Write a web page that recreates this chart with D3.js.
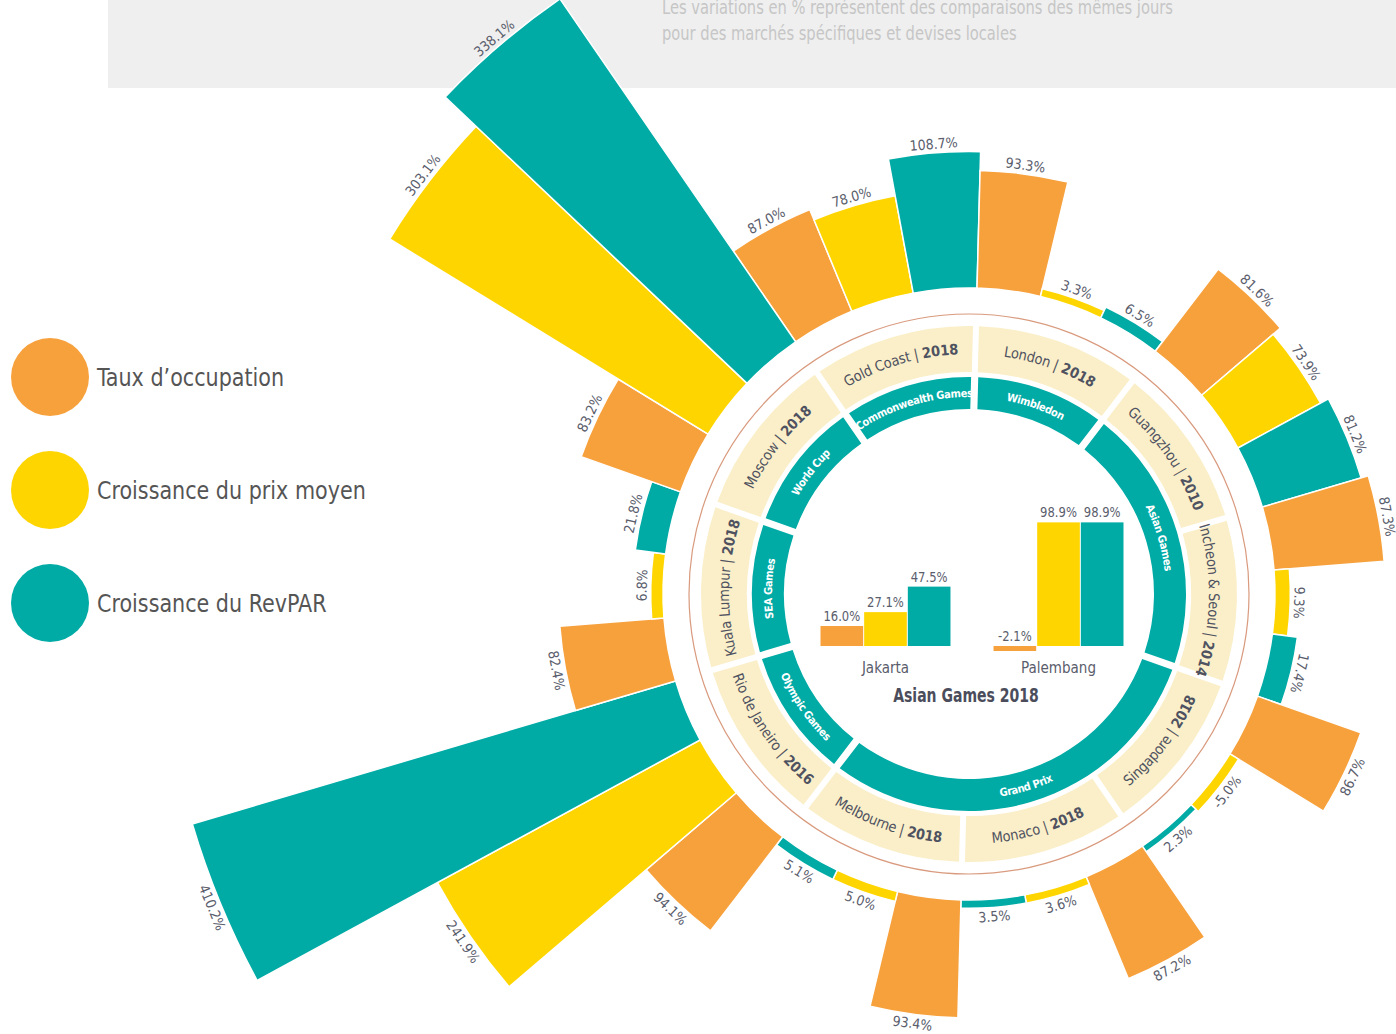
<!DOCTYPE html>
<html>
<head>
<meta charset="utf-8">
<script src="https://cdn.jsdelivr.net/npm/d3@7"></script>
<style>
	body { margin: 0; background: #fff; }
	#root { width: 1396px; height: 1034px; overflow: hidden; }
	text { font-family: "Liberation Sans Narrow", "DejaVu Sans Condensed", Roboto, sans-serif; font-stretch: condensed; }
</style>
</head>
<body>
<div id="root"></div>
<script>
// events, clockwise from the top-left
const cities = ["Gold Coast", "London", "Guangzhou", "Incheon & Seoul", "Singapore", "Monaco", "Melbourne", "Rio de Janeiro", "Kuala Lumpur", "Moscow"];
const years = ["2018", "2018", "2010", "2014", "2018", "2018", "2018", "2016", "2018", "2018"];
const sports = ["Commonwealth Games", "Wimbledon", "Asian Games", "Grand Prix", "Olympic Games", "SEA Games", "World Cup"];
const sportSpans = [1, 1, 2, 3, 1, 1, 1];

const seriesNames = ["Taux d\u2019occupation", "Croissance du prix moyen", "Croissance du RevPAR"];
const occupancy = [87.0, 93.3, 81.6, 87.3, 86.7, 87.2, 93.4, 94.1, 82.4, 83.2];
const adrGrowth = [78.0, 3.3, 73.9, 9.3, -5.0, 3.6, 5.0, 241.9, 6.8, 303.1];
const revparGrowth = [108.7, 6.5, 81.2, 17.4, 2.3, 3.5, 5.1, 410.2, 21.8, 338.1];

// Asian Games 2018 inset
const agCities = ["Jakarta", "Palembang"];
const jakarta = [16.0, 27.1, 47.5];
const palembang = [-2.1, 98.9, 98.9];

const noteLines = ["Les variations en % repr\u00e9sentent des comparaisons des m\u00eames jours", "pour des march\u00e9s sp\u00e9cifiques et devises locales"];

const colors = ["#F7A13D", "#FFD500", "#00ABA6"];
const textGrey = "#5a5d6c";

const cx = 969, cy = 594;
const rBar = 306;
const startDeg = -34.5;
const toRad = Math.PI / 180;

const makeChart = () => {
	const svg = d3.select("#root")
		.append("svg")
			.attr("width", 1396)
			.attr("height", 1034);

	renderHeader(svg);
	const g = svg.append("g").attr("transform", `translate(${cx}, ${cy})`);
	const angle = d3.scaleBand()
		.domain(d3.range(cities.length * 3))
		.range([startDeg * toRad, startDeg * toRad + 2 * Math.PI]);

	renderBars(g, angle);
	renderRings(g, angle);
	renderInset(svg);
	renderLegend(svg);
};

const renderHeader = (svg) => {
	svg.append("rect")
		.attr("x", 108).attr("y", 0)
		.attr("width", 1288).attr("height", 88)
		.style("fill", "#efefef");

	svg.selectAll(".note")
		.data(noteLines).enter()
		.append("text")
			.attr("class", "note")
			.attr("transform", (d, i) => `translate(662, ${14 + i * 26}) scale(0.86, 1)`)
			.style("font-size", "19px")
			.style("fill", "#c6c6c6")
			.text(d => d);
};

const renderBars = (g, angle) => {
	const series = [occupancy, adrGrowth, revparGrowth];
	const bars = cities.flatMap((c, i) => series.map((s, j) => ({ key: i * 3 + j, value: s[i], metric: j })));

	const radius = d3.scaleLinear().domain([0, 410.2]).range([rBar + 4, 810]);

	const arc = d3.arc()
		.innerRadius(rBar)
		.outerRadius(d => radius(Math.abs(d.value)))
		.startAngle(d => angle(d.key))
		.endAngle(d => angle(d.key) + angle.bandwidth());

	g.selectAll(".bar")
		.data(bars).enter()
		.append("path")
			.attr("class", "bar")
			.attr("d", arc)
			.style("fill", d => colors[d.metric])
			.style("stroke", "#fff")
			.style("stroke-width", 1.5);

	g.selectAll(".bar-label")
		.data(bars).enter()
		.append("text")
			.attr("class", "bar-label")
			.attr("text-anchor", "middle")
			.attr("transform", d => {
				const deg = ((angle(d.key) + angle.bandwidth() / 2) / toRad + 360) % 360;
				const r = radius(Math.abs(d.value));
				const flip = deg > 110 && deg < 262;
				return flip
					? `rotate(${deg}) translate(0, ${-(r + 14)}) rotate(180)`
					: `rotate(${deg}) translate(0, ${-(r + 4)})`;
			})
			.style("font-size", "14px")
			.style("fill", textGrey)
			.text(d => d.value.toFixed(1) + "%");
};

const arcPath = (r, a0, a1, flip) => {
	// a little longer than the cell so long names are not clipped
	const p = d3.path();
	const s = a0 - 0.3, e = a1 + 0.3;
	if (flip) {
		p.arc(0, 0, r, e - Math.PI / 2, s - Math.PI / 2, true);
	} else {
		p.arc(0, 0, r, s - Math.PI / 2, e - Math.PI / 2, false);
	}
	return p.toString();
};

const isFlipped = (a0, a1) => {
	const deg = (((a0 + a1) / 2) / toRad + 360) % 360;
	return deg > 100 && deg < 260;
};

const renderRings = (g, angle) => {
	const step = angle.bandwidth() * 3;
	const defs = g.append("defs");

	// thin outline circle
	g.append("circle")
		.attr("r", 280)
		.style("fill", "none")
		.style("stroke", "#d99a7e")
		.style("stroke-width", 1.2);

	// city cells
	const cells = cities.map((c, i) => ({ city: c, year: years[i], a0: angle(i * 3), a1: angle(i * 3) + step }));

	const cellArc = d3.arc()
		.innerRadius(222).outerRadius(268)
		.startAngle(d => d.a0).endAngle(d => d.a1)
		.padAngle(0.017);

	g.selectAll(".cell")
		.data(cells).enter()
		.append("path")
			.attr("class", "cell")
			.attr("d", cellArc)
			.style("fill", "#fbefc9");

	cells.forEach((d, i) => {
		const flip = isFlipped(d.a0, d.a1);
		defs.append("path")
			.attr("id", "cell-path-" + i)
			.attr("d", arcPath(flip ? 250 : 240, d.a0, d.a1, flip));
	});

	const cellText = g.selectAll(".cell-label")
		.data(cells).enter()
		.append("text")
			.attr("class", "cell-label")
			.style("font-size", "14.5px")
			.style("letter-spacing", "-0.2px")
			.style("fill", "#4f5260")
		.append("textPath")
			.attr("href", (d, i) => "#cell-path-" + i)
			.attr("startOffset", "50%")
			.attr("text-anchor", "middle");

	cellText.append("tspan").text(d => d.city + " | ");
	cellText.append("tspan").style("font-weight", "bold").text(d => d.year);

	// sport ring
	const starts = d3.cumsum([0].concat(sportSpans));
	const sportCells = sports.map((s, i) => ({ name: s, a0: angle(starts[i] * 3), a1: angle(starts[i] * 3) + sportSpans[i] * step }));

	const sportArc = d3.arc()
		.innerRadius(185).outerRadius(217)
		.startAngle(d => d.a0).endAngle(d => d.a1)
		.padAngle(0.025);

	g.selectAll(".sport")
		.data(sportCells).enter()
		.append("path")
			.attr("class", "sport")
			.attr("d", sportArc)
			.style("fill", colors[2]);

	sportCells.forEach((d, i) => {
		const flip = isFlipped(d.a0, d.a1);
		defs.append("path")
			.attr("id", "sport-path-" + i)
			.attr("d", arcPath(flip ? 205 : 197, d.a0, d.a1, flip));
	});

	g.selectAll(".sport-label")
		.data(sportCells).enter()
		.append("text")
			.attr("class", "sport-label")
			.style("font-size", "11px")
			.style("letter-spacing", "-0.4px")
			.style("font-weight", "bold")
			.style("fill", "#fff")
		.append("textPath")
			.attr("href", (d, i) => "#sport-path-" + i)
			.attr("startOffset", "50%")
			.attr("text-anchor", "middle")
			.text(d => d.name);
};

const renderInset = (svg) => {
	const values = [jakarta, palembang];

	const x0 = d3.scaleBand().domain(agCities).range([820, 1124]).paddingInner(0.243);
	const x1 = d3.scaleBand().domain(d3.range(3)).range([0, x0.bandwidth()]);
	const y = d3.scaleLinear().domain([0, 100]).range([646, 521]);

	const groups = svg.selectAll(".ag-group")
		.data(agCities).enter()
		.append("g")
			.attr("class", "ag-group")
			.attr("transform", d => `translate(${x0(d)}, 0)`);

	const bars = groups.selectAll(".ag-bar")
		.data((d, i) => values[i].map((v, j) => ({ v, j })))
		.enter();

	bars.append("rect")
		.attr("class", "ag-bar")
		.attr("x", d => x1(d.j) + 0.5)
		.attr("width", x1.bandwidth() - 1)
		.attr("y", d => Math.min(y(d.v), y(0)))
		.attr("height", d => Math.max(Math.abs(y(d.v) - y(0)), 5))
		.style("fill", d => colors[d.j]);

	bars.append("text")
		.attr("transform", d => `translate(${x1(d.j) + x1.bandwidth() / 2}, ${Math.min(y(d.v), y(0)) - 5}) scale(0.92, 1)`)
		.attr("text-anchor", "middle")
		.style("font-size", "14px")
		.style("fill", textGrey)
		.text(d => d.v.toFixed(1) + "%");

	groups.append("text")
		.attr("x", x0.bandwidth() / 2)
		.attr("y", 673)
		.attr("text-anchor", "middle")
		.style("font-size", "15px")
		.style("fill", textGrey)
		.text(d => d);

	svg.append("text")
		.attr("transform", "translate(966, 702) scale(0.78, 1)")
		.attr("text-anchor", "middle")
		.style("font-size", "20px")
		.style("font-weight", "bold")
		.style("fill", "#4b4d5c")
		.text("Asian Games 2018");
};

const renderLegend = (svg) => {
	const items = svg.selectAll(".legend")
		.data(seriesNames).enter()
		.append("g")
			.attr("class", "legend")
			.attr("transform", (d, i) => `translate(50, ${377 + i * 113})`);

	items.append("circle")
		.attr("r", 39)
		.style("fill", (d, i) => colors[i]);

	items.append("text")
		.attr("transform", "translate(47, 9) scale(0.92, 1)")
		.style("font-size", "25px")
		.style("fill", "#555")
		.text(d => d);
};

makeChart();
</script>
</body>
</html>
